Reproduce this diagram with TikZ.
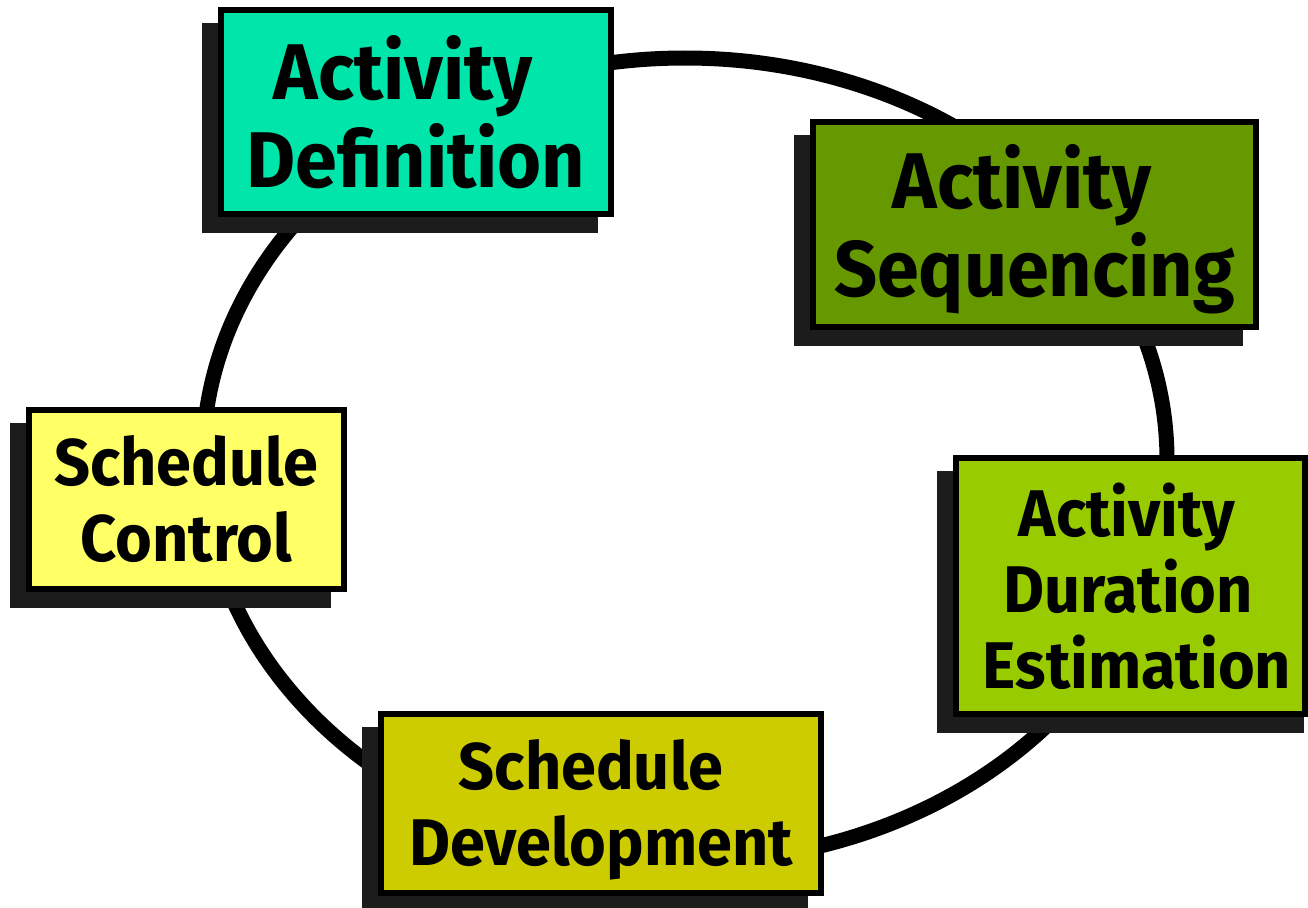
\documentclass[tikz,border=0pt]{standalone}
\usepackage{fontspec}
\setmainfont{Fira Sans}[FakeStretch=0.955]
\usetikzlibrary{calc}
\definecolor{defc}{HTML}{00E5AA}
\definecolor{seqc}{HTML}{669900}
\definecolor{durc}{HTML}{99CC00}
\definecolor{devc}{HTML}{CCCC00}
\definecolor{ctlc}{HTML}{FFFF66}
\definecolor{shadowc}{HTML}{1C1C1C}
\newcommand\pushtextdown[2]{\setbox0\hbox{#2}\rule{0pt}{\dimexpr\ht0+#1+#1\relax}\box0}
\pgfdeclarelayer{ring}
\pgfdeclarelayer{shade}
\pgfsetlayers{ring,shade,main}
\tikzset{
  procbox/.style={draw=black, line width=6pt, inner sep=0pt, align=center, text=black},
  bigtext/.style={font=\fontsize{79}{88}\selectfont\bfseries},
  smalltext/.style={font=\fontsize{66}{76}\selectfont\bfseries},
  ringline/.style={draw=black, line width=15pt},
  shadowfill/.style={fill=shadowc}
}
\begin{document}
\begin{tikzpicture}[x=1pt,y=-1pt]
\useasboundingbox (0,0) rectangle (1308,907);
\node[procbox, bigtext, fill=defc, minimum width=390pt, minimum height=204pt] (ad) at (416,112) {Activity\kern26pt\\Definition};
\node[procbox, bigtext, fill=seqc, minimum width=443pt, minimum height=205pt] (as) at (1034.5,224.5) {\pushtextdown{5pt}{Activity}\kern25pt\\Sequencing};
\node[procbox, smalltext, fill=durc, minimum width=349pt, minimum height=256pt] (ade) at (1130.5,586) {Activity\kern7pt\\Duration\kern5pt\\\kern13pt Estimation};
\node[procbox, smalltext, fill=devc, minimum width=440pt, minimum height=179pt] (sd) at (601,803.5) {\pushtextdown{6pt}{Schedule}\kern20pt\\Development};
\node[procbox, smalltext, fill=ctlc, minimum width=315pt, minimum height=179pt] (sc) at (186.5,499.5) {Schedule\\Control};
\begin{pgfonlayer}{shade}
\foreach \n in {ad,as,sd,sc}
  \fill[shadowfill] ($(\n.south west)+(-16,16)$) rectangle ($(\n.north east)+(-16,16)$);
\fill[shadowfill] ($(ade.south west)+(-16,16)$) rectangle ($(ade.north east)+(-4,16)$);
\end{pgfonlayer}
\begin{pgfonlayer}{ring}
\coordinate (ctr) at (685,460);
\draw[ringline] (ctr) ellipse [x radius=482pt, y radius=402pt];
\end{pgfonlayer}
\end{tikzpicture}
\end{document}
